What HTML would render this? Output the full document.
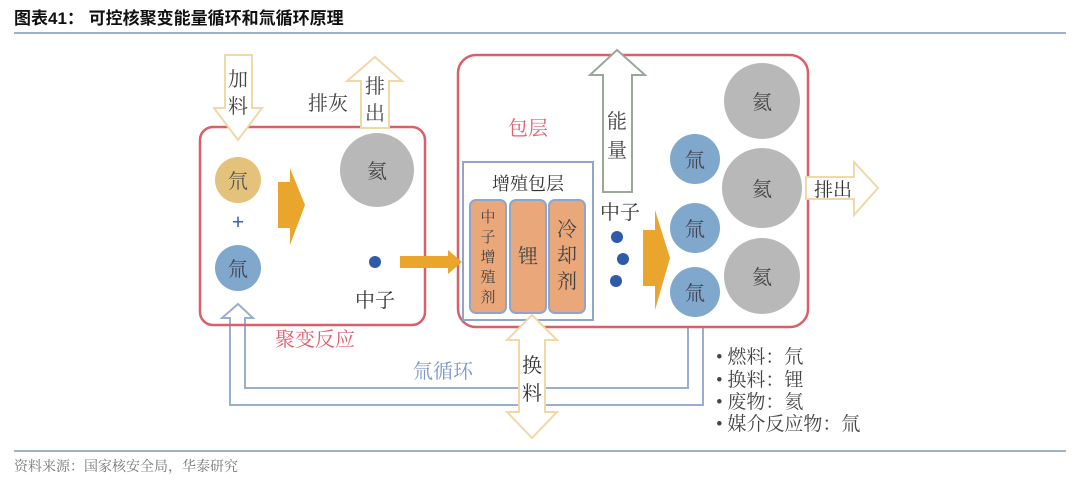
<!DOCTYPE html>
<html><head><meta charset="utf-8"><style>
body{margin:0;background:#fff;width:1080px;height:484px;overflow:hidden}
svg text{font-family:"Liberation Serif","Noto Serif CJK SC",serif}
</style></head><body>
<svg width="1080" height="484" viewBox="0 0 1080 484">
<text x="14" y="24" font-size="17" font-weight="bold" fill="#111" style='font-family:"Liberation Sans","Noto Sans CJK SC",sans-serif'>图表41：  可控核聚变能量循环和氚循环原理</text>
<line x1="14" y1="33" x2="1066" y2="33" stroke="#7f98b8" stroke-width="1.5"/>
<line x1="14" y1="451" x2="1066" y2="451" stroke="#7f98b8" stroke-width="1.5"/>
<text x="14" y="471" font-size="14" fill="#777">资料来源：国家核安全局，华泰研究</text>

<!-- tritium loop -->
<polyline points="688,325 688,388 245,388 245,318 253,318 238,304 222,318 230,318 230,405 703,405 703,325" fill="#fff" stroke="#9aaed0" stroke-width="2"/>

<!-- boxes -->
<rect x="200" y="127" width="225" height="198" rx="13" fill="none" stroke="#d9606a" stroke-width="2.5"/>
<rect x="458" y="55" width="350" height="272" rx="18" fill="#fff" stroke="#d9606a" stroke-width="2.5"/>
<rect x="463" y="162" width="130" height="158" fill="none" stroke="#8ea6cc" stroke-width="2"/>
<text x="528" y="190" font-size="18" text-anchor="middle" fill="#333">增殖包层</text>
<rect x="470" y="200" width="36" height="113" rx="6" fill="#eaa77a" stroke="#8ea6cc" stroke-width="2"/>
<rect x="510" y="200" width="36" height="113" rx="6" fill="#eaa77a" stroke="#8ea6cc" stroke-width="2"/>
<rect x="549" y="200" width="36" height="113" rx="6" fill="#eaa77a" stroke="#8ea6cc" stroke-width="2"/>
<g font-size="15" fill="#444" text-anchor="middle">
<text x="488" y="222">中</text><text x="488" y="242">子</text><text x="488" y="262">增</text><text x="488" y="282">殖</text><text x="488" y="302">剂</text></g>
<text x="528" y="263" font-size="20" text-anchor="middle" fill="#444">锂</text>
<g font-size="20" text-anchor="middle" fill="#444"><text x="567" y="236">冷</text><text x="567" y="262">却</text><text x="567" y="288">剂</text></g>

<!-- 换料 -->
<polygon points="532,315 557,340 545,340 545,412 557,412 532,438 507,412 519,412 519,340 507,340" fill="#fff" stroke="#f0d8a8" stroke-width="2"/>
<text x="532" y="372" font-size="20" text-anchor="middle" fill="#333">换</text>
<text x="532" y="400" font-size="20" text-anchor="middle" fill="#333">料</text>

<!-- 加料 -->
<polygon points="225,55 252,55 252,108 262,108 238,140 214,108 225,108" fill="#fff" stroke="#f0d8a8" stroke-width="2"/>
<text x="238" y="86" font-size="20" text-anchor="middle" fill="#444">加</text>
<text x="238" y="113" font-size="20" text-anchor="middle" fill="#444">料</text>
<!-- 排出 up -->
<polygon points="361,128 361,81 347,81 375,57 402,81 389,81 389,128" fill="#fff" stroke="#f0d8a8" stroke-width="2"/>
<text x="375" y="93" font-size="20" text-anchor="middle" fill="#444">排</text>
<text x="375" y="120" font-size="20" text-anchor="middle" fill="#444">出</text>
<text x="328" y="110" font-size="20" text-anchor="middle" fill="#444">排灰</text>
<!-- 能量 -->
<polygon points="603,192 603,75 590,75 617,50 645,75 632,75 632,192" fill="#fff" stroke="#9aa89a" stroke-width="2"/>
<text x="617" y="128" font-size="20" text-anchor="middle" fill="#444">能</text>
<text x="617" y="157" font-size="20" text-anchor="middle" fill="#444">量</text>
<text x="528" y="135" font-size="20" text-anchor="middle" fill="#e06070">包层</text>

<!-- left contents -->
<circle cx="238" cy="180" r="23" fill="#e5c27c"/>
<text x="238" y="188" font-size="20" text-anchor="middle" fill="#555">氘</text>
<text x="238" y="229" font-size="22" font-weight="bold" text-anchor="middle" fill="#3a62b0">+</text>
<circle cx="238" cy="268" r="23" fill="#7fa8cc"/>
<text x="238" y="276" font-size="20" text-anchor="middle" fill="#445">氚</text>
<polygon points="278,182 290,182 290,168 305,205 290,245 290,228 278,228" fill="#e9a52c"/>
<circle cx="377" cy="170" r="37" fill="#b8b8b8"/>
<text x="377" y="178" font-size="20" text-anchor="middle" fill="#444">氦</text>
<circle cx="375" cy="262" r="6" fill="#2e5aa8"/>
<text x="375" y="307" font-size="20" text-anchor="middle" fill="#333">中子</text>
<polygon points="400,256 448,256 448,250 462,262 448,274 448,268 400,268" fill="#e9a52c"/>
<text x="315" y="346" font-size="20" text-anchor="middle" fill="#e06070">聚变反应</text>
<text x="443" y="378" font-size="20" text-anchor="middle" fill="#7f98c8">氚循环</text>

<!-- right contents -->
<text x="620" y="219" font-size="20" text-anchor="middle" fill="#333">中子</text>
<circle cx="617" cy="237" r="6" fill="#2e5aa8"/>
<circle cx="623" cy="259" r="6" fill="#2e5aa8"/>
<circle cx="616" cy="281" r="6" fill="#2e5aa8"/>
<polygon points="643,230 655,230 655,210 670,258 655,310 655,286 643,286" fill="#e9a52c"/>
<circle cx="695" cy="159" r="25" fill="#7fa8cc"/>
<circle cx="695" cy="228" r="25" fill="#7fa8cc"/>
<circle cx="695" cy="292" r="25" fill="#7fa8cc"/>
<g font-size="20" text-anchor="middle" fill="#445"><text x="695" y="167">氚</text><text x="695" y="236">氚</text><text x="695" y="300">氚</text></g>
<circle cx="762" cy="101" r="38" fill="#b8b8b8"/>
<circle cx="762" cy="188" r="40" fill="#b8b8b8"/>
<circle cx="762" cy="276" r="38" fill="#b8b8b8"/>
<g font-size="20" text-anchor="middle" fill="#444"><text x="762" y="109">氦</text><text x="762" y="196">氦</text><text x="762" y="284">氦</text></g>
<polygon points="806,177 854,177 854,162 878,188 854,215 854,199 806,199" fill="#fff" stroke="#f0d8a8" stroke-width="2"/>
<text x="833" y="196" font-size="19" text-anchor="middle" fill="#333">排出</text>

<g font-size="19" fill="#444">
<text x="716" y="363">• 燃料：氘</text>
<text x="716" y="386">• 换料：锂</text>
<text x="716" y="408">• 废物：氦</text>
<text x="716" y="430">• 媒介反应物：氚</text>
</g>
</svg>
</body></html>
